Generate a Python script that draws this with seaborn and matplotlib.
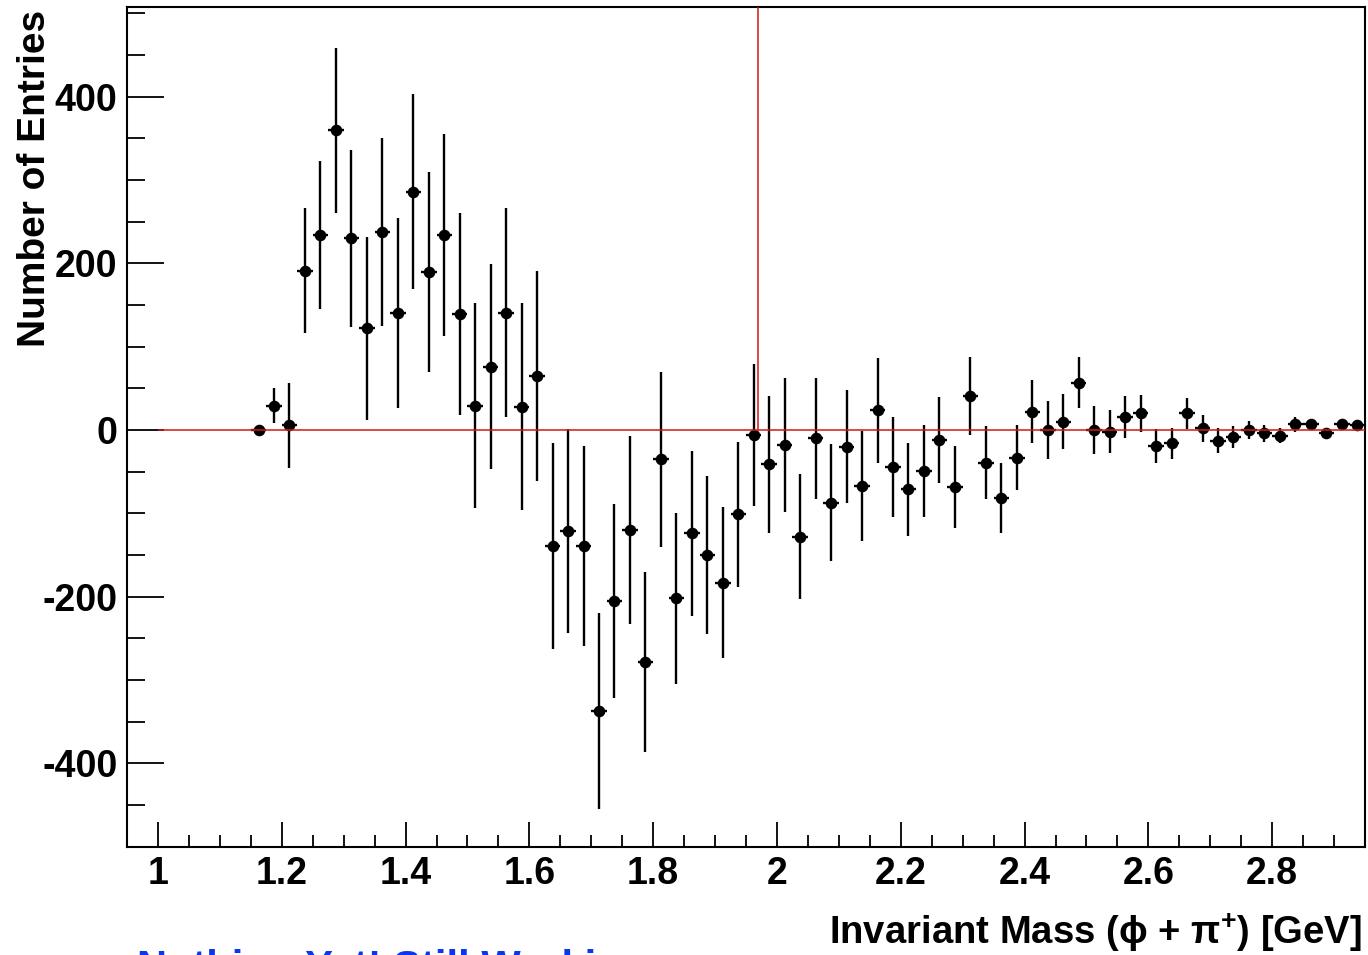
import numpy as np
import matplotlib
matplotlib.use("Agg")
import matplotlib.pyplot as plt
from matplotlib.ticker import MultipleLocator, FixedLocator, FixedFormatter
import seaborn as sns

# ---------------- data ----------------
bin_first_center = 1.1625
bin_width = 0.025
entries = [0, 29, 6, 191, 234, 360, 230, 122, 238, 141,
           286, 190, 234, 139, 29, 76, 141, 28, 65, -139,
           -121, -139, -337, -205, -120, -278, -35, -202, -124, -150,
           -183, -101, -6, -41, -18, -128, -10, -87, -20, -67,
           24, -44, -71, -49, -12, -68, 41, -39, -82, -33,
           22, 0, 10, 57, 0, -2, 16, 20, -19, -16,
           20, 2, -13, -8, 0, -4, -7, 7, 7, -4,
           7, 6]
errors = [3, 21, 51, 75, 89, 99, 106, 110, 113, 114,
          117, 120, 121, 121, 123, 123, 125, 124, 126, 124,
          122, 120, 118, 116, 113, 108, 105, 103, 99, 95,
          91, 87, 85, 82, 80, 75, 73, 70, 68, 66,
          63, 60, 56, 55, 52, 49, 47, 44, 42, 39,
          38, 35, 33, 31, 29, 26, 25, 22, 20, 19,
          19, 16, 15, 13, 11, 10, 9, 9, 5, 5,
          5, 4]
mass_centers = bin_first_center + bin_width * np.arange(len(entries))

x_tick_values = [1.0, 1.2, 1.4, 1.6, 1.8, 2.0, 2.2, 2.4, 2.6, 2.8]
x_tick_labels = ["1", "1.2", "1.4", "1.6", "1.8", "2", "2.2", "2.4", "2.6", "2.8"]
y_tick_values = [-400, -200, 0, 200, 400]
y_tick_labels = ["-400", "-200", "0", "200", "400"]
x_range = (0.95, 2.95)
y_range = (-500, 507)
zero_line_start = 1.0
ds_mass = 1.969

# ---------------- style ----------------
sns.set_theme(style="white")
plt.rcParams["font.family"] = ["Liberation Sans", "DejaVu Sans"]
plt.rcParams["font.weight"] = "bold"
plt.rcParams["text.color"] = "black"
plt.rcParams["axes.labelcolor"] = "black"
plt.rcParams["mathtext.fontset"] = "custom"
plt.rcParams["mathtext.rm"] = "Liberation Sans:bold"
plt.rcParams["mathtext.bf"] = "Liberation Sans:bold"
plt.rcParams["mathtext.it"] = "Liberation Sans:bold:italic"

fig = plt.figure(figsize=(13.68, 9.55), dpi=100)
fig.patch.set_facecolor("white")
W, H = 1368.0, 955.0
left, right, top, bottom = 127, 1365, 7.5, 846.7
ax = fig.add_axes([left / W, 1 - bottom / H, (right - left) / W, (bottom - top) / H])
ax.set_facecolor("white")

# error bars
ax.errorbar(mass_centers, entries, xerr=bin_width / 2, yerr=errors,
            fmt="none", ecolor="black", elinewidth=1.7, capsize=0, zorder=2)
# markers
sns.scatterplot(x=mass_centers, y=entries, ax=ax, color="black", marker="o",
                s=70, edgecolor="black", linewidth=0, zorder=3, legend=False)

# red reference lines
ax.hlines(0, zero_line_start, x_range[1], colors="#d01818", linewidth=1.1, zorder=4)
ax.vlines(ds_mass, 0, y_range[1], colors="#d01818", linewidth=1.1, zorder=4)

ax.set_xlim(*x_range)
ax.set_ylim(*y_range)

ax.xaxis.set_major_locator(FixedLocator(x_tick_values))
ax.xaxis.set_major_formatter(FixedFormatter(x_tick_labels))
ax.xaxis.set_minor_locator(MultipleLocator(0.05))
ax.yaxis.set_major_locator(FixedLocator(y_tick_values))
ax.yaxis.set_major_formatter(FixedFormatter(y_tick_labels))
ax.yaxis.set_minor_locator(MultipleLocator(50))

ax.tick_params(axis="both", which="both", direction="in", colors="black",
               labelcolor="black", bottom=True, left=True, top=False, right=False,
               labelsize=27, width=1.3)
ax.tick_params(axis="x", which="major", length=18, pad=7)
ax.tick_params(axis="x", which="minor", length=9)
ax.tick_params(axis="y", which="major", length=26.6, pad=7)
ax.tick_params(axis="y", which="minor", length=13.3)
for lab in ax.get_xticklabels() + ax.get_yticklabels():
    lab.set_fontweight("bold")
    lab.set_color("black")

for sp in ax.spines.values():
    sp.set_visible(True)
    sp.set_color("black")
    sp.set_linewidth(1.5)

# axis labels
ax.set_xlabel("Invariant Mass (\u03d5 + \u03c0$^{+}$) [GeV]", fontsize=27.5,
              fontweight="bold", loc="right", color="black")
ax.xaxis.set_label_coords((1362 - left) / (right - left), -(944 - bottom) / (bottom - top))
ax.xaxis.label.set_ha("right")
ax.xaxis.label.set_va("baseline")

ax.set_ylabel("Number of Entries", fontsize=28, fontweight="bold", loc="top", color="black")
ax.yaxis.set_label_coords((45 - left) / (right - left), (bottom - 10) / (bottom - top))
ax.yaxis.label.set_rotation(90)
ax.yaxis.label.set_rotation_mode("anchor")
ax.yaxis.label.set_ha("right")
ax.yaxis.label.set_va("baseline")

# footer text, partly below the lower edge exactly as in the reference
fig.text(137 / W, 1 - 980 / H, "Nothing Yet! Still Working...", color="#0a36f0",
         fontsize=30, fontweight="bold", ha="left", va="baseline")

fig.savefig("out.png", dpi=100, facecolor="white")
